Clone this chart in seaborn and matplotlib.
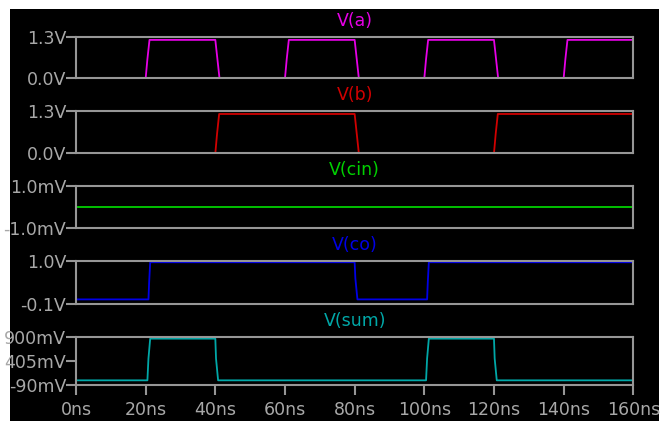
import matplotlib
matplotlib.use("Agg")
import matplotlib.pyplot as plt
from matplotlib.patches import Rectangle
import pandas as pd
import seaborn as sns

# Transient simulation traces (time in ns, value in V)
t_a = [0, 20, 20.5, 21.1, 40, 40.6, 41.2, 60, 60.5, 61.1, 80, 80.6, 81.2,
       100, 100.5, 101.1, 120, 120.6, 121.2, 140, 140.5, 141.1, 160]
v_a = [0, 0, 0.6, 1.2, 1.2, 0.6, 0, 0, 0.6, 1.2, 1.2, 0.6, 0,
       0, 0.6, 1.2, 1.2, 0.6, 0, 0, 0.6, 1.2, 1.2]

t_b = [0, 40, 40.5, 41.1, 80, 80.6, 81.2, 120, 120.5, 121.1, 160]
v_b = [0, 0, 0.6, 1.2, 1.2, 0.6, 0, 0, 0.6, 1.2, 1.2]

t_cin = [0, 160]
v_cin = [0, 0]

t_co = [0, 20.8, 21.0, 21.3, 80, 80.2, 80.8, 100.8, 101.0, 101.3, 160]
v_co = [0.01, 0.01, 0.45, 0.96, 0.96, 0.55, 0.01, 0.01, 0.45, 0.96, 0.96]

t_sum = [0, 20.5, 20.8, 21.3, 40, 40.2, 40.8, 100.5, 100.8, 101.3, 120, 120.2, 120.8, 160]
v_sum = [0.0, 0.0, 0.45, 0.86, 0.86, 0.45, 0.0, 0.0, 0.45, 0.86, 0.86, 0.45, 0.0, 0.0]

names = ["V(a)", "V(b)", "V(cin)", "V(co)", "V(sum)"]
colors = ["#e600e6", "#d00000", "#00d000", "#0000e6", "#00a8a8"]

y_ticks = [[0, 1.3], [0, 1.3], [-1e-3, 1e-3], [-0.1, 1.0], [-0.09, 0.405, 0.9]]
y_labels = [["0.0V", "1.3V"], ["0.0V", "1.3V"], ["-1.0mV", "1.0mV"],
            ["-0.1V", "1.0V"], ["-90mV", "405mV", "900mV"]]
x_ticks = [0, 20, 40, 60, 80, 100, 120, 140, 160]
x_labels = ["0ns", "20ns", "40ns", "60ns", "80ns", "100ns", "120ns", "140ns", "160ns"]

traces = [(t_a, v_a), (t_b, v_b), (t_cin, v_cin), (t_co, v_co), (t_sum, v_sum)]

sns.set_theme(style="white")
plt.rcParams["font.family"] = ["DejaVu Sans"]

FG = "#a8a8a8"
GRID = "#969696"

W, H = 661, 421
fig = plt.figure(figsize=(W / 100, H / 100), dpi=100, facecolor="white")
fig.patches.append(Rectangle((10 / W, 0), 649 / W, (H - 9) / H,
                             transform=fig.transFigure, facecolor="black",
                             edgecolor="none", zorder=-10))

# panel extents in pixels (top, bottom)
panels = [(36.7, 78.3), (110.7, 153.3), (185.7, 227.7), (260.7, 303.7), (336.7, 384.7)]
left, right = 76, 633.3

for i, ((top, bot), (t, v)) in enumerate(zip(panels, traces)):
    ax = fig.add_axes([left / W, (H - bot) / H, (right - left) / W, (bot - top) / H])
    ax.set_facecolor("black")
    df = pd.DataFrame({"t": t, "v": v})
    sns.lineplot(data=df, x="t", y="v", ax=ax, color=colors[i], lw=1.3,
                 estimator=None, sort=False)
    ax.set_xlim(0, 160)
    ax.set_ylim(y_ticks[i][0], y_ticks[i][-1])
    ax.set_yticks(y_ticks[i])
    ax.set_yticklabels(y_labels[i])
    ax.set_xlabel("")
    ax.set_ylabel("")
    for s in ax.spines.values():
        s.set_color(GRID)
        s.set_linewidth(1.5)
    ax.tick_params(axis="y", direction="out", length=7, width=1.5, color=GRID,
                   labelcolor=FG, labelsize=12.5, pad=0, left=True)
    if i == len(panels) - 1:
        ax.set_xticks(x_ticks)
        ax.set_xticklabels(x_labels)
        ax.tick_params(axis="x", direction="out", length=7.5, width=1.5, color=GRID,
                       labelcolor=FG, labelsize=12.5, pad=4, bottom=True)
    else:
        ax.set_xticks([])
    ax.annotate(names[i], xy=(0.5, 1.0), xycoords="axes fraction",
                xytext=(0, 11), textcoords="offset points",
                ha="center", va="center", color=colors[i], fontsize=12.5)

fig.savefig("out.png", dpi=100, facecolor="white")
